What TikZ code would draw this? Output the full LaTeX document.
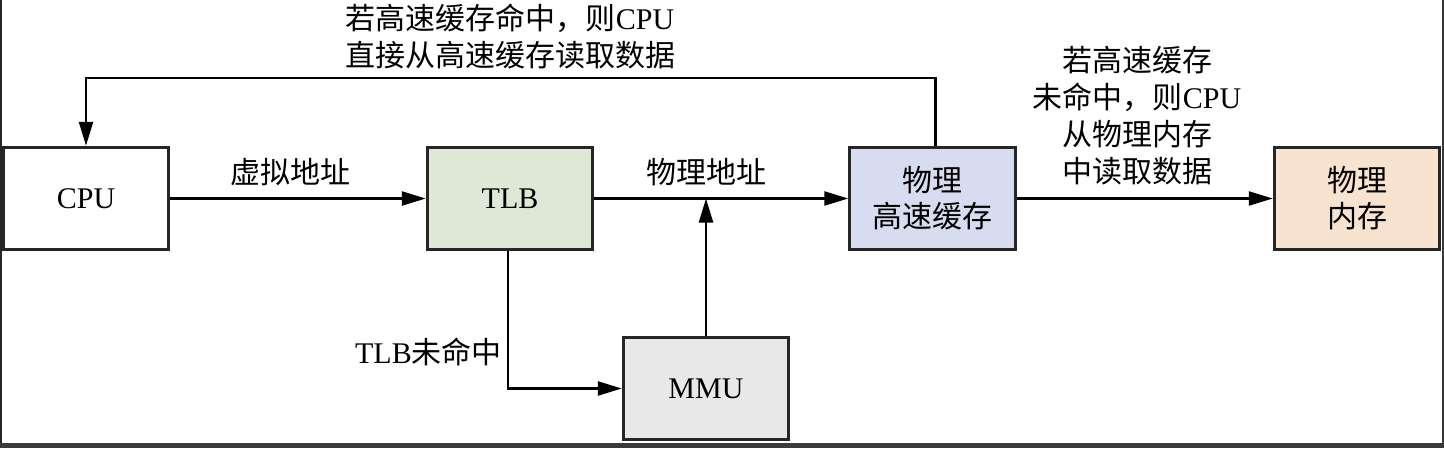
\documentclass[tikz,border=0pt]{standalone}
\usepackage{fontspec}
\setmainfont{Liberation Serif}
\newfontfamily\cjk{Noto Sans CJK SC}
\newcommand{\zhtxt}[1]{{\cjk #1}}
\usetikzlibrary{arrows.meta}
\definecolor{tlbfill}{HTML}{DDE8D6}
\definecolor{cachefill}{HTML}{D8DCF0}
\definecolor{memfill}{HTML}{F8E2D0}
\definecolor{mmufill}{HTML}{E8E8E8}
\definecolor{scan}{HTML}{3A3A3A}
\begin{document}
\begin{tikzpicture}[x=1pt,y=-1pt,
  box/.style={draw=black!85, line width=3pt, minimum width=165.5pt, minimum height=102.5pt, inner sep=0pt, align=center, font=\fontsize{30}{36}\selectfont},
  conn/.style={line width=2.4pt, draw=black},
  arr/.style={conn, -{Triangle[length=24pt,width=14pt]}},
  lbl/.style={font=\fontsize{30}{37}\selectfont, align=center, inner sep=0pt}]
\fill[white] (0,0) rectangle (1444,448);
\useasboundingbox (0,0) rectangle (1444,448);
% boxes
\node[box] (cpu) at (86,198.5) {CPU};
\node[box, fill=tlbfill] (tlb) at (510,198.5) {TLB};
\node[box, fill=cachefill] (cache) at (932.5,198.5) {\zhtxt{物理}\\\zhtxt{高速缓存}};
\node[box, fill=memfill] (mem) at (1357,198.5) {\zhtxt{物理}\\\zhtxt{内存}};
\node[box, fill=mmufill] (mmu) at (706,388.5) {MMU};
% connectors
\draw[arr] (cpu) -- (tlb);
\draw[arr] (tlb) -- (cache);
\draw[arr] (cache) -- (mem);
\draw[arr] (mmu.north) -- (mmu.north |- tlb.east);
\draw[arr] ([xshift=-2pt]tlb.south) |- (mmu.west);
\coordinate (fb) at (0,78);
\draw[arr] ([xshift=3pt]cache.north) -- ([xshift=3pt]cache.north |- fb) -- (cpu.north |- fb) -- (cpu.north);
% labels
\node[lbl] (l1) at (290,172) {\zhtxt{虚拟地址}};
\node[lbl] (l2) at (706,172) {\zhtxt{物理地址}};
\node[lbl, anchor=east] (l3) at (502,352) {TLB\zhtxt{未命中}};
\node[lbl] (l4) at (510,36.5) {\zhtxt{若高速缓存命中，则}CPU\\\zhtxt{直接从高速缓存读取数据}};
\node[lbl] (l5) at (1137,116) {\zhtxt{若高速缓存}\\\zhtxt{未命中，则}CPU\\\zhtxt{从物理内存}\\\zhtxt{中读取数据}};
% scan edges
\fill[scan] (0,443) rectangle (1444,448);
\fill[scan] (1441.5,0) rectangle (1444,448);
\fill[black!85] (0,0) rectangle (1.5,443);
\end{tikzpicture}
\end{document}
